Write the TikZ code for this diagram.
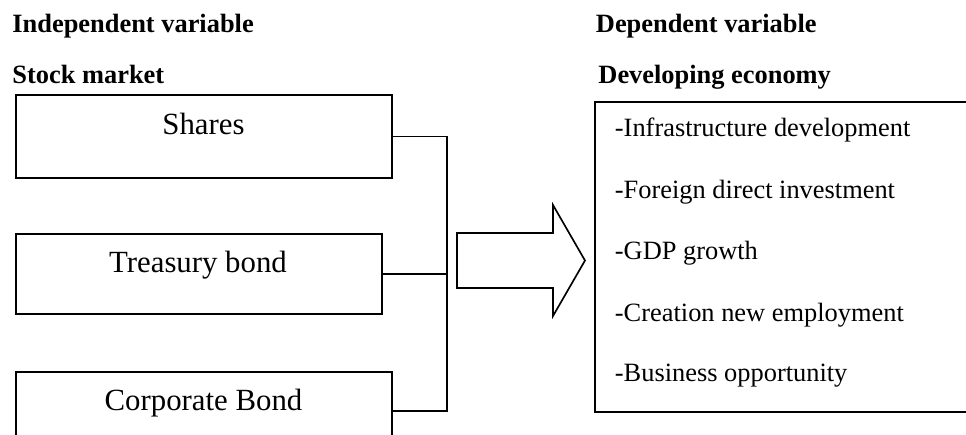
\documentclass[tikz,border=0pt]{standalone}
\usepackage{fontspec}
\setmainfont{Liberation Serif}
\def\px{0.4545pt}

\begin{document}
\begin{tikzpicture}[x=0.4545pt,y=-0.4545pt,
            heading/.style={font=\fontsize{12}{14}\selectfont\bfseries,anchor=base west,inner sep=0pt},
            varbox/.style={draw,line width=0.75pt,anchor=north west,inner sep=0pt},
            boxlabel/.style={font=\fontsize{14}{17}\selectfont,anchor=base,inner sep=0pt},
            item/.style={font=\fontsize{12}{14}\selectfont,anchor=base west,inner sep=0pt},
            link/.style={line width=0.7pt}]
            \useasboundingbox (0,0) rectangle (966,434);
            \clip (0,0) rectangle (966,434);

            \node[heading] (indep) at (12,32.5) {Independent variable};
            \node[heading] (stock) at (12,83) {Stock market};
            \node[heading] (dep) at (595.5,32.5) {Dependent variable};
            \node[heading] (econ) at (598,83) {Developing economy};

            \node[varbox,minimum width=376*\px,minimum height=83*\px] (shares) at (15,94) {};
            \node[varbox,minimum width=366*\px,minimum height=80*\px] (treasury) at (15,233) {};
            \node[varbox,minimum width=376*\px,minimum height=78*\px] (corporate) at (15,371) {};
            \node[boxlabel] (sharestxt) at (203.5,134.3) {Shares};
            \node[boxlabel] (treasurytxt) at (198,272.7) {Treasury bond};
            \node[boxlabel] (corporatetxt) at (203.5,410) {Corporate Bond};

            \node[varbox,line width=1pt,minimum width=420*\px,minimum height=310*\px] (growth) at (593.5,101) {};
            \node[item] (infra) at (614.5,136.7) {-Infrastructure development};
            \node[item] (fdi) at (614.5,198.3) {-Foreign direct investment};
            \node[item] (gdp) at (614.5,259) {-GDP growth};
            \node[item] (jobs) at (614.5,321) {-Creation new employment};
            \node[item] (business) at (614.5,381) {-Business opportunity};

            \coordinate (bus) at (447,275);
            \draw[link] (shares.east) -| (bus);
            \draw[link] (corporate.east) -| (bus);
            \draw[link] (treasury.east) -- (treasury.east -| bus);

            \draw[line width=0.75pt,line join=miter] (457,233) -- (553,233) -- (553,205) -- (585,260.5)
                -- (553,316) -- (553,288) -- (457,288) -- cycle;
\end{tikzpicture}
\end{document}
